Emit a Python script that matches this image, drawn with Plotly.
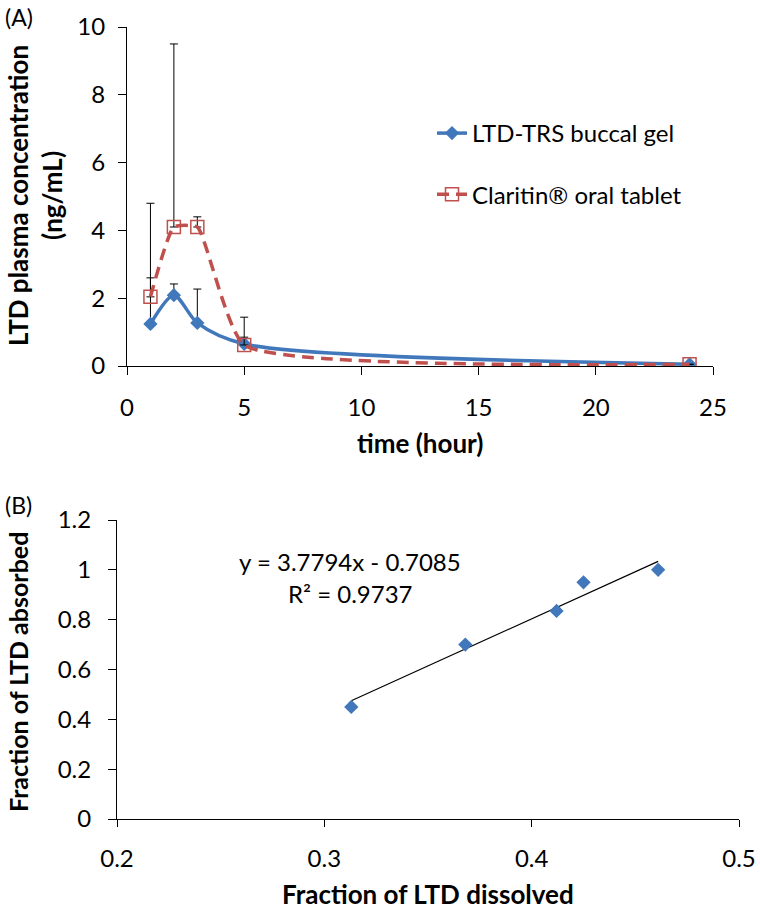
import plotly.graph_objects as go

# ---- Panel A data ----
time_h = [1, 2, 3, 5, 24]
gel_conc = [1.24, 2.09, 1.27, 0.65, 0.05]
gel_err = [1.36, 0.33, 1.0, 0.2, 0.0]
clar_conc = [2.04, 4.1, 4.1, 0.62, 0.05]
clar_err = [2.76, 5.4, 0.3, 0.82, 0.0]

# ---- Panel B data ----
frac_dissolved = [0.313, 0.368, 0.412, 0.425, 0.461]
frac_absorbed = [0.45, 0.70, 0.835, 0.95, 1.0]
slope, intercept = 3.7794, -0.7085
r2 = 0.9737

W, H = 760, 909
FONT = "Lato"
BLUE = "#4178BC"
RED = "#C0504D"

def px(x):
    return x / W

def py(y):
    return 1 - y / H

fig = go.Figure()

fig.add_trace(go.Scatter(
    x=time_h, y=gel_conc, name="LTD-TRS buccal gel", mode="lines+markers",
    line=dict(color=BLUE, width=3.5, shape="spline", smoothing=0.8),
    marker=dict(symbol="diamond", size=11, color=BLUE),
    error_y=dict(type="data", array=gel_err, arrayminus=[0]*len(gel_err),
                 symmetric=False, color="black", thickness=1, width=4),
    xaxis="x", yaxis="y", legendgroup="g1",
))
fig.add_trace(go.Scatter(
    x=time_h, y=clar_conc, name="Claritin® oral tablet", mode="lines+markers",
    line=dict(color=RED, width=3.5, shape="spline", smoothing=0.45, dash="12px,7px"),
    marker=dict(symbol="square-open", size=13, color=RED, line=dict(width=1.5, color=RED)),
    error_y=dict(type="data", array=clar_err, arrayminus=[0]*len(clar_err),
                 symmetric=False, color="black", thickness=1, width=4),
    xaxis="x", yaxis="y", legendgroup="g2",
))

# Panel B
x_fit = [min(frac_dissolved), max(frac_dissolved)]
y_fit = [slope * v + intercept for v in x_fit]
fig.add_trace(go.Scatter(
    x=x_fit, y=y_fit, mode="lines", line=dict(color="black", width=1.2),
    xaxis="x2", yaxis="y2", showlegend=False, hoverinfo="skip",
))
fig.add_trace(go.Scatter(
    x=frac_dissolved, y=frac_absorbed, mode="markers",
    marker=dict(symbol="diamond", size=11, color=BLUE),
    xaxis="x2", yaxis="y2", showlegend=False,
))

def axis_common(ticklen=8):
    return dict(
        showgrid=False, zeroline=False, showline=True, linecolor="black", linewidth=1,
        ticks="outside", ticklen=ticklen, tickcolor="black", tickwidth=1,
        tickfont=dict(family=FONT, size=24, color="black"), automargin=False,
    )

fig.update_layout(
    width=W, height=H,
    margin=dict(l=0, r=0, t=0, b=0),
    paper_bgcolor="white", plot_bgcolor="white",
    font=dict(family=FONT, color="black"),
    xaxis=dict(domain=[px(127), px(713)], range=[0, 25], dtick=5, anchor="y",
               ticklabelstandoff=12, **axis_common()),
    yaxis=dict(domain=[py(366), py(27)], range=[0, 10], dtick=2, anchor="x",
               ticklabelstandoff=8, **axis_common()),
    xaxis2=dict(domain=[px(117), px(739)], range=[0.2, 0.5], dtick=0.1, anchor="y2",
                ticklabelstandoff=11, tickformat=".1f", **axis_common(7)),
    yaxis2=dict(domain=[py(819), py(520)], range=[0, 1.2], dtick=0.2, anchor="x2",
                ticklabelstandoff=12, **axis_common()),
    legend=dict(x=px(432), y=py(164), xanchor="left", yanchor="middle",
                font=dict(family=FONT, size=24, color="black"),
                traceorder="grouped", tracegroupgap=27,
                bgcolor="rgba(0,0,0,0)", itemwidth=30),
    showlegend=True,
)

TITLE = 26
ann = [
    dict(text="(A)", x=px(3), y=py(17), xanchor="left", yanchor="middle",
         font=dict(size=23)),
    dict(text="(B)", x=px(3), y=py(505), xanchor="left", yanchor="middle",
         font=dict(size=23)),
    dict(text="<b>LTD plasma concentration</b><br><b>(ng/mL)</b>", x=px(35), y=py(196),
         textangle=-90, xanchor="center", yanchor="middle", font=dict(size=TITLE)),
    dict(text="<b>time (hour)</b>", x=px(420), y=py(443), xanchor="center",
         yanchor="middle", font=dict(size=TITLE)),
    dict(text="<b>Fraction of LTD absorbed</b>", x=px(18), y=py(672), textangle=-90,
         xanchor="center", yanchor="middle", font=dict(size=25)),
    dict(text="<b>Fraction of LTD dissolved</b>", x=px(428), y=py(894),
         xanchor="center", yanchor="middle", font=dict(size=TITLE)),
]
for a in ann:
    a.update(xref="paper", yref="paper", showarrow=False)

eq_x = 0.3126
ann += [
    dict(text=f"y = {slope}x - {abs(intercept)}", x=eq_x, y=1.034, xref="x2", yref="y2",
         xanchor="center", yanchor="middle", showarrow=False, font=dict(size=24)),
    dict(text=f"R² = {r2}", x=eq_x, y=0.905, xref="x2", yref="y2",
         xanchor="center", yanchor="middle", showarrow=False, font=dict(size=24)),
]
for a in ann:
    a["font"].update(family=FONT, color="black")
fig.update_layout(annotations=ann)

fig.write_html("out.html", config={"displayModeBar": False},
               post_script="document.body.style.margin='0';document.body.style.padding='0';")
